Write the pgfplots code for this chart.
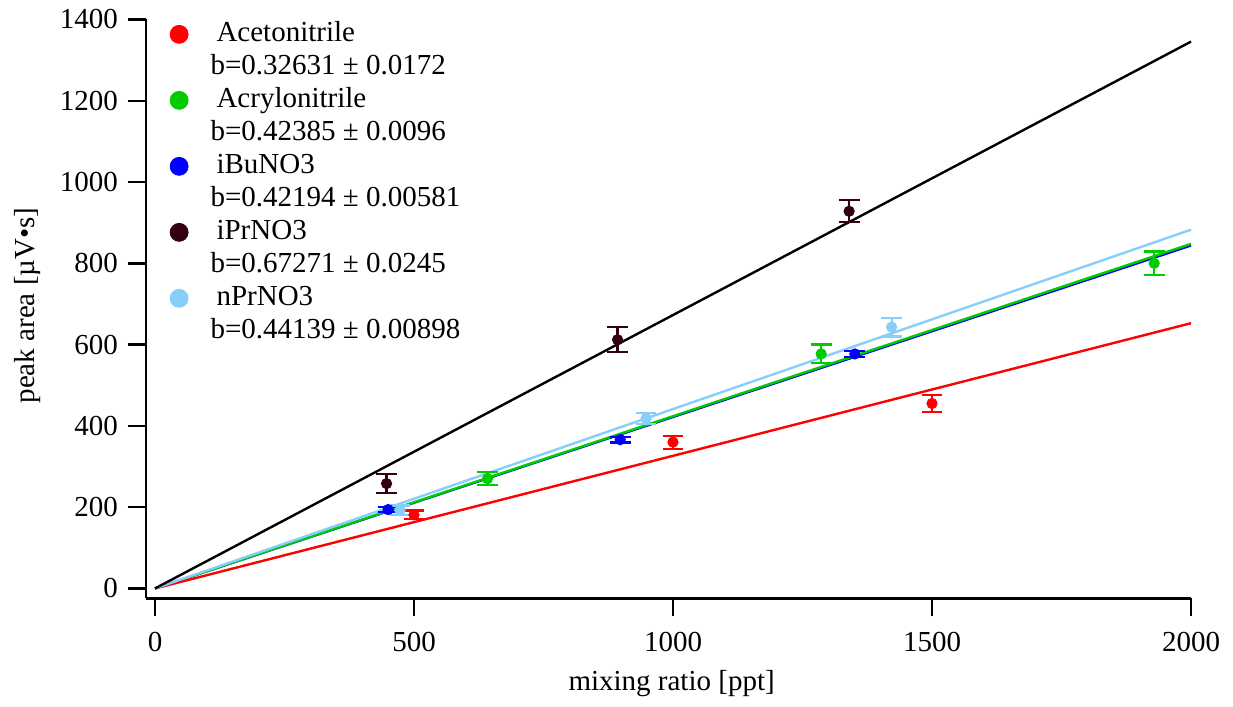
\documentclass[border=0pt]{standalone}
\usepackage{fontspec}
\setmainfont{Liberation Serif}
\usepackage{pgfplots}
\pgfplotsset{compat=1.18}
\definecolor{cRed}{RGB}{255,0,0}
\definecolor{cGreen}{RGB}{0,204,0}
\definecolor{cBlue}{RGB}{0,0,255}
\definecolor{cDark}{RGB}{51,0,17}
\definecolor{cLight}{RGB}{135,206,250}
\begin{document}
\fontsize{14.5}{17}\selectfont
\begin{tikzpicture}
\begin{axis}[
  width=522.5pt, height=289.5pt, scale only axis,
  xmin=-17.4, xmax=2000, ymin=-24.6, ymax=1400,
  axis x line=bottom, axis y line=left,
  axis line style={-, line width=1.2pt},
  xtick={0,500,1000,1500,2000}, ytick={0,200,400,600,800,1000,1200,1400},
  minor tick num=0,
  tick align=outside, major tick length=9pt,
  every tick/.style={line width=1.2pt, black},
  /pgf/number format/assume math mode=true,
  /pgf/number format/1000 sep={},
  ticklabel style={font=\fontsize{14.5}{17}\selectfont},
  xticklabel style={yshift=-3pt},
  label style={font=\fontsize{14.5}{17}\selectfont},
  xlabel={mixing ratio [ppt]},
  ylabel={peak area [µV•s]},
  xlabel style={at={(axis description cs:0.503,-0.147)}, anchor=center},
  ylabel style={at={(axis description cs:-0.113,0.506)}, anchor=center, rotate=0},
  legend style={at={(axis description cs:0.015,1.0)}, anchor=north west, draw=none, fill=none,
    font=\fontsize{14.5}{17}\selectfont, row sep=2pt, inner sep=0pt,
    nodes={inner sep=0pt, text height=11pt, text depth=3.5pt, anchor=west}},
  legend cell align=left,
  legend image code/.code={\fill[#1] (0.3cm,0) circle (4.5pt);},
  clip=false,
]
% fit lines
\addplot[cBlue, line width=1.2pt, forget plot] coordinates {(0,0) (2000,843.88)};
\addplot[cGreen, line width=1.2pt, forget plot] coordinates {(0,0) (2000,847.70)};
\addplot[cRed, line width=1.2pt, forget plot] coordinates {(0,0) (2000,652.62)};
\addplot[cLight, line width=1.2pt, forget plot] coordinates {(0,0) (2000,882.78)};
\addplot[black, line width=1.2pt, forget plot] coordinates {(0,0) (2000,1345.42)};
% data points
\pgfplotsset{pts/.style={only marks, mark=*, mark size=2.6pt, forget plot,
  error bars/y dir=both, error bars/y explicit,
  error bars/error bar style={line width=1.1pt},
  error bars/error mark options={rotate=90, mark size=5.2pt, line width=1.1pt}}}
\addplot[color=cRed, pts] table[x=x, y=y, y error=e] {
x y e
500 181 11
1000 360 16
1500 455 20
};
\addplot[color=cGreen, pts] table[x=x, y=y, y error=e] {
x y e
642 270 16
1286 577 23
1929 800 29
};
\addplot[color=cBlue, pts] table[x=x, y=y, y error=e] {
x y e
450 194 6
898 366 7
1351 577 7
};
\addplot[color=cDark, pts] table[x=x, y=y, y error=e] {
x y e
447 258 23
893 612 31
1340 928 27
};
\addplot[color=cLight, pts] table[x=x, y=y, y error=e] {
x y e
473 192 12
948 418 14
1422 643 23
};
% legend
\addlegendimage{cRed}
\addlegendentry{\hspace{14pt}Acetonitrile}
\addlegendimage{empty legend}
\addlegendentry{\hspace{11pt}b=0.32631 ± 0.0172}
\addlegendimage{cGreen}
\addlegendentry{\hspace{14pt}Acrylonitrile}
\addlegendimage{empty legend}
\addlegendentry{\hspace{11pt}b=0.42385 ± 0.0096}
\addlegendimage{cBlue}
\addlegendentry{\hspace{14pt}iBuNO3}
\addlegendimage{empty legend}
\addlegendentry{\hspace{11pt}b=0.42194 ± 0.00581}
\addlegendimage{cDark}
\addlegendentry{\hspace{14pt}iPrNO3}
\addlegendimage{empty legend}
\addlegendentry{\hspace{11pt}b=0.67271 ± 0.0245}
\addlegendimage{cLight}
\addlegendentry{\hspace{14pt}nPrNO3}
\addlegendimage{empty legend}
\addlegendentry{\hspace{11pt}b=0.44139 ± 0.00898}
\end{axis}
\path (current axis.south west) ++(-73pt,-51.5pt) coordinate (bbA);
\path (current axis.north east) ++(21pt,9.5pt) coordinate (bbB);
\path (bbA) rectangle (bbB);
\end{tikzpicture}
\end{document}
